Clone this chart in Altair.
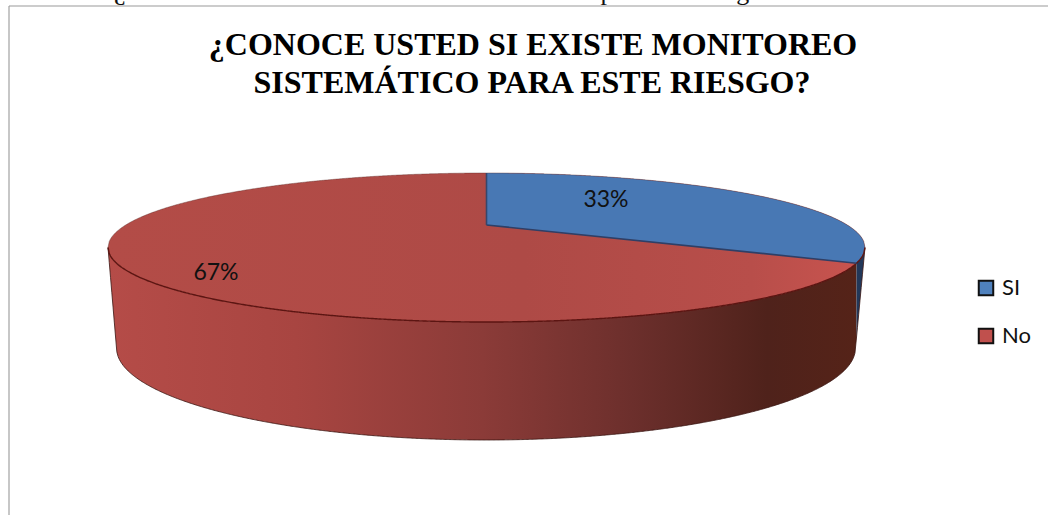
import altair as alt
import numpy as np
import pandas as pd

# Survey answers
categories = ["SI", "No"]
shares = [33, 67]
label_texts = ["33%", "67%"]
legend_colors = ["#4f81bd", "#c0504d"]

heading = ["¿CONOCE USTED SI EXISTE MONITOREO", "SISTEMÁTICO PARA ESTE RIESGO?"]
caption = "Gráfico 5. ¿Conoce usted si existe monitoreo sistemático para este riesgo?"

W, H = 1048, 515

# Disc geometry of the tilted pie, in view units
CX, CY, A, B = 486.5, 247.5, 378.5, 74.5     # top face ellipse
BCX, BCY, BA, BB = 486.0, 348.0, 369.5, 92.0  # bottom rim ellipse
TILT = 0.302                                  # perspective strength
APEX_Y = 225.0


def upper(x):
    return CY - B * np.sqrt(np.clip(1 - ((x - CX) / A) ** 2, 0, 1))


def lower(x):
    return CY + B * np.sqrt(np.clip(1 - ((x - CX) / A) ** 2, 0, 1))


def wall_bottom(x):
    """Lower silhouette of the wall: rim ellipse joined to the disc's extremes."""
    y = BCY + BB * np.sqrt(np.clip(1 - ((x - BCX) / BA) ** 2, 0, 1))
    left, right = BCX - BA, BCX + BA
    y = np.where(x < left, CY + (x - (CX - A)) / (left - (CX - A)) * (BCY - CY), y)
    y = np.where(x > right, CY + ((CX + A) - x) / ((CX + A) - right) * (BCY - CY), y)
    return y


# The first slice starts at twelve o'clock and runs clockwise
angle = shares[0] / sum(shares) * 2 * np.pi
u, v = np.sin(angle), np.cos(angle)
K = A * np.sqrt(1 - TILT ** 2)
end_x = CX + K * u / (1 + TILT * v)
end_y = lower(end_x) if v < -TILT else upper(end_x)

xs_all = np.linspace(CX - A, CX + A, 601)
top_df = pd.DataFrame({"x": xs_all, "y": upper(xs_all), "y2": lower(xs_all)})

xs_slice = np.unique(np.concatenate([np.linspace(CX, CX + A, 300), [end_x]]))
slice_low = np.where(
    xs_slice <= end_x,
    APEX_Y + (xs_slice - CX) / (end_x - CX) * (end_y - APEX_Y),
    lower(xs_slice),
)
slice_df = pd.DataFrame({"x": xs_slice, "y": upper(xs_slice), "y2": slice_low})

xs_red = np.unique(np.concatenate([np.linspace(CX - A, end_x, 500), [end_x]]))
wall_red_df = pd.DataFrame({"x": xs_red, "y": lower(xs_red), "y2": wall_bottom(xs_red)})
xs_blue = np.linspace(end_x, CX + A, 40)
wall_blue_df = pd.DataFrame({"x": xs_blue, "y": lower(xs_blue), "y2": wall_bottom(xs_blue)})

front_df = pd.DataFrame({"x": xs_all, "y": lower(xs_all)})
back_df = pd.DataFrame({"x": xs_all, "y": upper(xs_all)})
rim_df = pd.DataFrame({"x": xs_all, "y": wall_bottom(xs_all)})
radius_df = pd.DataFrame({"x": [CX, end_x], "y": [APEX_Y, end_y]})
seam_df = pd.DataFrame({"x": [CX, CX], "y": [upper(np.array(CX)), APEX_Y]})

x_enc = alt.X("x:Q", scale=alt.Scale(domain=[0, W], range=[0, W]), axis=None)
y_enc = alt.Y("y:Q", scale=alt.Scale(domain=[0, H], range=[0, H]), axis=None)


def horizontal_gradient(stops):
    return alt.Gradient(
        gradient="linear", x1=0, x2=1, y1=0, y2=0,
        stops=[alt.GradientStop(offset=o, color=c) for o, c in stops],
    )


def area(df, fill):
    return alt.Chart(df).mark_area(orient="vertical", fill=fill, stroke=None).encode(
        x=x_enc, y=y_enc, y2="y2:Q"
    )


def line(df, color, width, opacity=1.0):
    return alt.Chart(df).mark_line(color=color, strokeWidth=width, opacity=opacity, clip=False).encode(
        x=x_enc, y=y_enc
    )


wall_red = area(wall_red_df, horizontal_gradient([
    (0.00, "#b54c48"), (0.25, "#a84541"), (0.50, "#8b3b38"),
    (0.70, "#6c2f2c"), (0.88, "#4f221b"), (1.00, "#552318"),
]))
wall_blue = area(wall_blue_df, "#22385a")
top_red = area(top_df, horizontal_gradient([
    (0.00, "#b34c47"), (0.55, "#ae4a46"), (0.85, "#b84e4a"), (1.00, "#c9544f"),
]))
top_blue = area(slice_df, "#4878b4")

# Hidden markers that carry the colour scale for the legend
legend_df = pd.DataFrame({"x": [CX, CX], "y": [CY, CY], "category": categories})
legend_layer = alt.Chart(legend_df).mark_square(opacity=0, size=1).encode(
    x=x_enc, y=y_enc,
    color=alt.Color(
        "category:N",
        sort=categories,
        scale=alt.Scale(domain=categories, range=legend_colors),
        legend=alt.Legend(
            title=None, orient="none", legendX=975, legendY=277,
            symbolType="square", symbolSize=210, symbolOpacity=1,
            symbolStrokeColor="#111111", symbolStrokeWidth=2,
            labelFont="Lato", labelFontSize=22, labelColor="#111111",
            labelOffset=5, rowPadding=24, padding=0, offset=0,
        ),
    ),
)

labels_df = pd.DataFrame({"x": [606, 216], "y": [200, 273], "text": label_texts})
labels = alt.Chart(labels_df).mark_text(
    font="Lato", fontSize=23, color="#111111", align="center", baseline="middle"
).encode(x=x_enc, y=y_enc, text="text:N")

title_df = pd.DataFrame({"x": [533, 532], "y": [45, 83], "text": heading})
title = alt.Chart(title_df).mark_text(
    font="Liberation Serif", fontSize=32, fontWeight="bold", color="#000000",
    align="center", baseline="middle",
).encode(x=x_enc, y=y_enc, text="text:N")

# Running text of the page above the chart, cut by the top edge
caption_layer = alt.Chart(pd.DataFrame({"t": [caption]})).mark_text(
    font="Liberation Serif", fontSize=26, color="#111111", align="left", baseline="alphabetic"
).encode(x=alt.value(2), y=alt.value(-0.5), text="t:N")

frame_left = alt.Chart(pd.DataFrame({"k": [0]})).mark_rule(color="#b4b4b4", strokeWidth=1.5).encode(
    x=alt.value(9), y=alt.value(6), y2=alt.value(H)
)
frame_top = alt.Chart(pd.DataFrame({"k": [0]})).mark_rule(color="#9a9a9a", strokeWidth=1.2).encode(
    x=alt.value(9), x2=alt.value(W), y=alt.value(6)
)

chart = alt.layer(
    caption_layer, frame_left, frame_top, title, legend_layer,
    wall_red, wall_blue,
    line(rim_df, "#3a1512", 1.0, 0.8),
    top_red, top_blue,
    line(back_df, "#5a2a28", 0.8, 0.5),
    line(front_df, "#5c1512", 1.4),
    line(radius_df, "#2f3f66", 1.6),
    line(seam_df, "#36466c", 1.6),
    labels,
).properties(
    width=W, height=H, padding=0, autosize=alt.AutoSizeParams(type="none"),
    background="#ffffff",
).configure_view(stroke=None)

chart.save("out.html", embed_options={"renderer": "svg", "actions": False})
